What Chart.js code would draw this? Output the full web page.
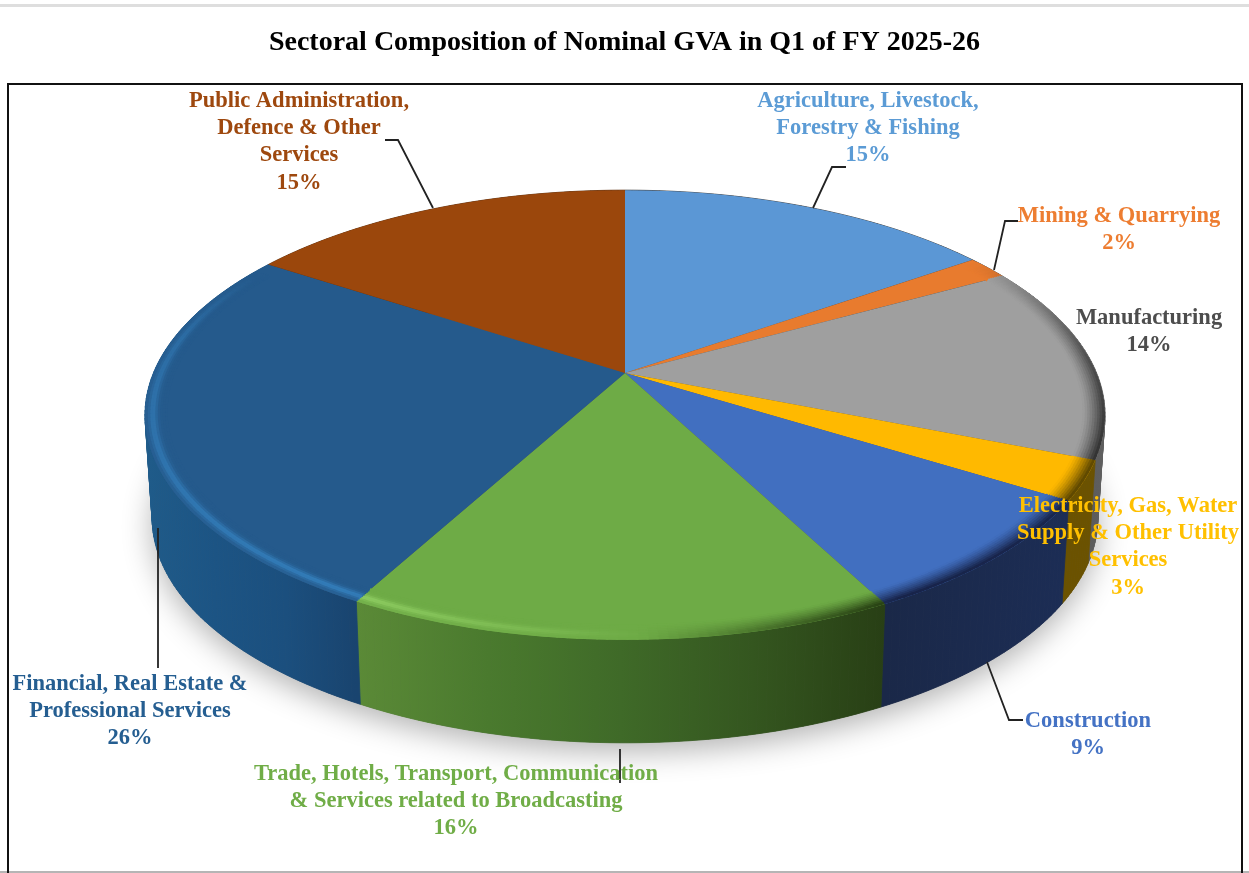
<!DOCTYPE html>
<html><head><meta charset="utf-8">
<style>html,body{margin:0;padding:0;background:#fff;overflow:hidden}canvas{display:block}</style>
<script src="https://cdn.jsdelivr.net/npm/chart.js@4/dist/chart.umd.min.js"></script>
</head><body><canvas id="c" width="1249" height="873"></canvas>
<script>
const chartTitle = "Sectoral Composition of Nominal GVA in Q1 of FY 2025-26";
const categories = [
  ["Agriculture, Livestock,","Forestry & Fishing"],
  ["Mining & Quarrying"],
  ["Manufacturing"],
  ["Electricity, Gas, Water","Supply & Other Utility","Services"],
  ["Construction"],
  ["Trade, Hotels, Transport, Communication","& Services related to Broadcasting"],
  ["Financial, Real Estate &","Professional Services"],
  ["Public Administration,","Defence & Other","Services"]
];
const shares = [15.2, 1.7, 14.2, 2.8, 8.5, 15.5, 26.4, 15.7];
const shareLabels = ["15%","2%","14%","3%","9%","16%","26%","15%"];
const sliceColors = ["#5b97d5","#e87b2e","#9f9f9f","#ffb900","#416fc0","#6eab46","#255a8c","#9b470c"];
const highlightColors = ["#ffffff","#ffffff","#ffffff","#ffffff","#ffffff","#a8e878","#3f9be0","#ffffff"];
const rimDarkColors = ["#222222","#222222","#2e2e2e","#5a4500","#18244a","#233a10","#183f66","#4a2206"];
const textColors  = ["#5b9bd5","#ed7d31","#4d4d4d","#ffc000","#4472c4","#70ad47","#255e91","#9e480e"];

const labelAnchors = [[868,101],[1119,216],[1149,318],[1128,506],[1088,721],[456,774],[130,684],[299,101]];
const leaders = [
  [[813,208],[832,167],[846,167]],
  [[994,270],[1005,221],[1018,221]],
  null,
  null,
  [[987,662],[1009,720],[1023,720]],
  [[620,749],[620,783]],
  [[158,528],[158,668]],
  [[433,208],[398,140],[385,140]]
];
const wallStops = [
  ["#3a3a3a","#3a3a3a"],["#3a3a3a","#3a3a3a"],["#4a4a4a","#5f5f5f"],["#6b5200","#6b5200"],
  ["#1a2848","#1c2d55"],
  ["#5b8a37","#4a7a2e","#3f6a28","#34561f","#283f15"],
  ["#1f5b89","#1c5484","#1b4f7e","#19446f"],
  ["#5a2a08","#5a2a08"]
];

const CX=625, AY=373, K=0.1867, SX=471.6, TY=217, DEPTH=103, SHRINK=0.985;
function project(a,r){
  const x=r*Math.cos(a), y=r*Math.sin(a), w=1-K*y;
  return {X:CX+SX*x/w, Y:AY+TY*y/w};
}
function lower(p){return {X:CX+(p.X-CX)*SHRINK, Y:p.Y+DEPTH};}
function hex(c){return [1,3,5].map(i=>parseInt(c.substr(i,2),16));}
function mix(c,t,f){const a=hex(c),b=hex(t);return 'rgb('+a.map((v,i)=>Math.round(v+(b[i]-v)*f)).join(',')+')';}
const shadeCurve=[[0,0],[55,0],[85,-.7],[110,-.95],[150,-1],[165,-.5],[178,0],[190,.25],[210,.55],[240,.45],[280,.3],[300,0],[360,0]];
function shade(d){
  d=((d%360)+360)%360;
  for(let i=1;i<shadeCurve.length;i++){
    const [a,u]=shadeCurve[i-1],[b,v]=shadeCurve[i];
    if(d<=b) return u+(v-u)*(d-a)/(b-a);
  }
  return 0;
}
function rimPath(c,fn){
  c.beginPath();
  for(let d=0;d<360;d+=1){const p=fn(project(d*Math.PI/180,1));d?c.lineTo(p.X,p.Y):c.moveTo(p.X,p.Y);}
  c.closePath();
}
const perspectivePie={
  id:'perspectivePie',
  beforeDraw(chart){
    const c=chart.ctx;
    c.save();
    c.fillStyle='#fff';c.fillRect(0,0,1249,873);
    c.fillStyle='#dedede';c.fillRect(0,4,1249,3);
    c.fillStyle='#b5b5b5';c.fillRect(0,871,1249,2);
    c.strokeStyle='#111';c.lineWidth=2;
    c.beginPath();c.moveTo(8,873);c.lineTo(8,84);c.lineTo(1242,84);c.lineTo(1242,873);c.stroke();
    c.restore();
  },
  beforeDatasetsDraw(chart){
    const c=chart.ctx, arcs=chart.getDatasetMeta(0).data;
    c.save();
    rimPath(c,lower);
    c.shadowColor='rgba(0,0,0,.3)';c.shadowBlur=30;c.shadowOffsetY=9;
    c.fillStyle='#555';c.fill();
    c.shadowColor='transparent';c.shadowBlur=0;c.shadowOffsetY=0;
    arcs.forEach((el,i)=>{
      const top=[],n=Math.max(2,Math.ceil((el.endAngle-el.startAngle)/0.0175));
      for(let j=0;j<=n;j++) top.push(project(el.startAngle+(el.endAngle-el.startAngle)*j/n,1));
      let x0=1e9,x1=-1e9;top.forEach(p=>{x0=Math.min(x0,p.X);x1=Math.max(x1,p.X);});
      const g=c.createLinearGradient(x0,0,x1,0),st=wallStops[i];
      st.forEach((col,j)=>g.addColorStop(j/(st.length-1),col));
      c.fillStyle=g;c.strokeStyle=g;c.lineWidth=.8;
      for(let j=0;j<n;j++){
        const p=top[j],q=top[j+1],r=lower(q),s=lower(p);
        c.beginPath();c.moveTo(p.X,p.Y);c.lineTo(q.X,q.Y);c.lineTo(r.X,r.Y);c.lineTo(s.X,s.Y);c.closePath();
        c.fill();c.stroke();
      }
    });
    c.restore();
  },
  beforeDatasetDraw(chart){
    const c=chart.ctx, arcs=chart.getDatasetMeta(0).data;
    const R=arcs[0].outerRadius, px=arcs[0].x, py=arcs[0].y;
    for(let row=-186;row<=270;row++){
      const Y=row+.5, y=Y/(TY+K*Y), w=1-K*y;
      if(Math.abs(y)>1.01) continue;
      const a=SX/(R*w), d=TY/(R*w*w);
      c.save();
      c.beginPath();c.rect(0,AY+row,1249,1);c.clip();
      c.setTransform(a,0,0,d,CX-a*px,AY+Y-d*(py+y*R));
      arcs.forEach(el=>el.draw(c));
      c.restore();
    }
    return false;
  },
  afterDatasetsDraw(chart){
    const c=chart.ctx, arcs=chart.getDatasetMeta(0).data;
    c.save();
    c.save();
    rimPath(c,p=>p);c.clip();
    c.lineWidth=3.6;c.lineCap='butt';
    const step=Math.PI/180;
    arcs.forEach((el,i)=>{
      const base=sliceColors[i],hi=highlightColors[i],lo=rimDarkColors[i];
      for(let r=.958;r<1.003;r+=.005){
        const u=Math.min(1,(r-.955)/.042);
        for(let a=el.startAngle;a<el.endAngle-1e-4;a+=step){
          const deg=(a+Math.PI/2)*180/Math.PI, sh=shade(deg);
          if(Math.abs(sh)<.005) continue;
          const col=sh<0?mix(base,lo,-sh*Math.pow(u,1.3))
                        :mix(base,hi,sh*Math.exp(-Math.pow((u-.72)/.22,2)));
          const p=project(a,r),q=project(Math.min(a+step+.004,el.endAngle),r);
          c.strokeStyle=col;c.beginPath();c.moveTo(p.X,p.Y);c.lineTo(q.X,q.Y);c.stroke();
        }
      }
    });
    c.restore();
    c.strokeStyle='#222';c.lineWidth=1.8;c.lineJoin='miter';
    leaders.forEach(l=>{if(!l)return;c.beginPath();l.forEach((p,j)=>j?c.lineTo(p[0],p[1]):c.moveTo(p[0],p[1]));c.stroke();});
    c.font='bold 22.5px "Liberation Serif"';c.textAlign='center';c.textBaseline='middle';
    c.filter='blur(0.65px)';
    categories.forEach((lines,i)=>{
      const [x,y]=labelAnchors[i];
      c.fillStyle=textColors[i];
      lines.concat([shareLabels[i]]).forEach((t,j)=>c.fillText(t,x,y+j*27.3));
    });
    c.filter='none';
    c.restore();
  }
};
new Chart(document.getElementById('c'),{
  type:'pie',
  data:{labels:categories.map(l=>l.join(' ')),datasets:[{data:shares,backgroundColor:sliceColors,borderWidth:0}]},
  options:{
    responsive:false,animation:false,
    events:[],
    plugins:{
      legend:{display:false},tooltip:{enabled:false},
      title:{display:true,text:chartTitle,color:'#000',align:'center',
        font:{family:'"Liberation Serif"',size:28,weight:'bold'},padding:{top:26,bottom:10}}
    }
  },
  plugins:[perspectivePie]
});
</script></body></html>
